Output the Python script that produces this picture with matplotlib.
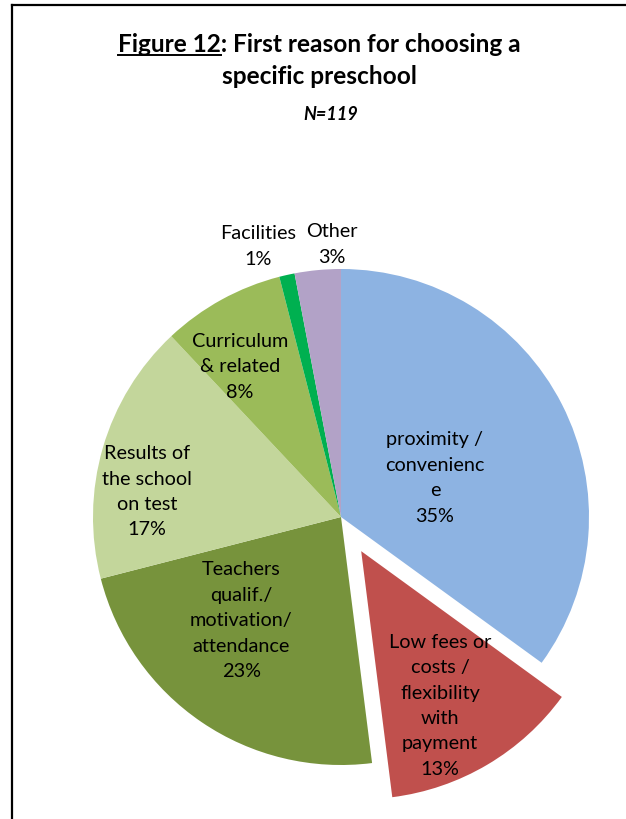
import numpy as np
import matplotlib.pyplot as plt
from matplotlib.lines import Line2D

# Data
labels = ["proximity /\nconvenienc\ne", "Low fees or\ncosts /\nflexibility\nwith\npayment",
          "Teachers\nqualif./\nmotivation/\nattendance", "Results of\nthe school\non test",
          "Curriculum\n& related", "Facilities", "Other"]
shares = [35, 13, 23, 17, 8, 1, 3]
colors = ["#8DB3E2", "#C0504D", "#77933C", "#C3D69B", "#9BBB59", "#00B050", "#B2A2C7"]
explode = [0, 0.16, 0, 0, 0, 0, 0]

# label placement: distance from wedge centre (in radii) and angle nudge (deg)
lab_dist = [0.41, 0.70, 0.58, 0.79, 0.73, 1.14, 1.10]
lab_nudge = [-4.5, -3.6, -9.7, 8.8, 5.2, 4.4, -3.4]

W, H = 626, 819
fig = plt.figure(figsize=(W / 100, H / 100), dpi=100)
ax = fig.add_axes([0, 0, 1, 1])

font = "Lato"
R = 248
wedges, _ = ax.pie(shares, colors=colors, explode=[e * R for e in explode],
                   startangle=90, counterclock=False, radius=R,
                   center=(341, H - 517), wedgeprops=dict(linewidth=0), frame=True)
ax.set_xlim(0, W)
ax.set_ylim(0, H)
ax.set_aspect("equal")
ax.axis("off")

for w, lab, val, d, nud in zip(wedges, labels, shares, lab_dist, lab_nudge):
    ang = np.deg2rad((w.theta1 + w.theta2) / 2 + nud)
    cx, cy = w.center
    ax.text(cx + d * R * np.cos(ang), cy + d * R * np.sin(ang), f"{lab}\n{val}%",
            ha="center", va="center", fontsize=14.3, family=font,
            linespacing=1.6, color="black")

# border lines (left and top)
fig.add_artist(Line2D([12 / W, 12 / W], [0, 1 - 5 / H], color="black", lw=1.6))
fig.add_artist(Line2D([12 / W, 1], [1 - 5 / H, 1 - 5 / H], color="black", lw=1.6))

# title
line1 = "Figure 12: First reason for choosing a"
t1 = ax.text(319, H - 44, line1, ha="center", va="center", fontsize=17.6,
             fontweight="bold", family=font)
ax.text(319, H - 76, "specific preschool", ha="center", va="center", fontsize=17.6,
        fontweight="bold", family=font)
ax.text(331, H - 115, "N=119", ha="center", va="center", fontsize=13,
        fontweight="bold", style="italic", family=font)

# underline "Figure 12"
r = fig.canvas.get_renderer()
bb = t1.get_window_extent(r)
tmp = ax.text(0, 0, "Figure 12", fontsize=17.6, fontweight="bold", family=font)
wpart = tmp.get_window_extent(r).width
tmp.remove()
y_ul = bb.y0 + 1
fig.add_artist(Line2D([bb.x0 / W, (bb.x0 + wpart) / W], [y_ul / H, y_ul / H],
                      color="black", lw=1.4))

fig.savefig("out.png", dpi=100)
